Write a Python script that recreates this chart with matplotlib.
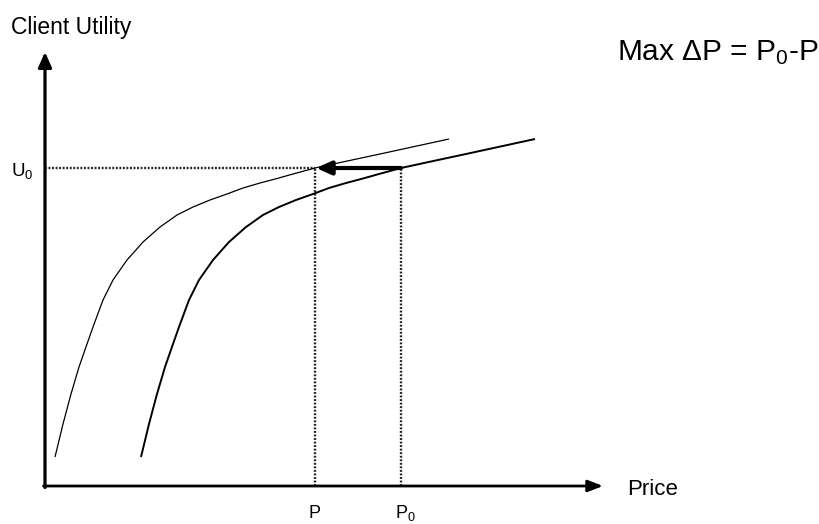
import matplotlib
matplotlib.use("Agg")
import matplotlib.pyplot as plt

plt.rcParams['font.family'] = ['Liberation Sans', 'DejaVu Sans']
plt.rcParams['mathtext.fontset'] = 'custom'
plt.rcParams['mathtext.rm'] = 'Liberation Sans'
plt.rcParams['mathtext.it'] = 'Liberation Sans:italic'

# Data (price, utility) in chart units, origin at axes corner
left_price = [10, 18, 26, 34, 42, 48, 58, 68, 82, 98, 115, 132, 148, 165, 182,
              198, 215, 232, 248, 270, 300, 335, 404]
left_util = [29, 62, 92, 119, 142, 159, 186, 206, 226, 244, 259, 271, 279, 286, 292,
             298, 303, 307.5, 312, 318, 324.5, 332, 347]
right_price = [96, 104, 112, 120, 128, 134, 144, 154, 168, 184, 201, 218, 234, 251, 268,
               284, 301, 318, 334, 356, 386, 421, 490]
right_util = [29, 62, 92, 119, 142, 159, 186, 206, 226, 244, 259, 271, 279, 286, 292,
              298, 303, 307.5, 312, 318, 324.5, 332, 347]
P = 270
P0 = 356
U0 = 318
x_axis_end = 558
y_axis_end = 434

fig = plt.figure(figsize=(8.2, 5.24), dpi=100)
ax = fig.add_axes([0, 0, 1, 1])
ax.set_xlim(-45, 775)
ax.set_ylim(-38, 486)
ax.axis('off')

# axes with arrows
ax.annotate('', xy=(0, y_axis_end), xytext=(0, -1.5),
            arrowprops=dict(arrowstyle='-|>,head_length=0.9,head_width=0.4',
                            lw=2.3, color='black', shrinkA=0, shrinkB=0))
ax.annotate('', xy=(x_axis_end, 0), xytext=(-1.5, 0),
            arrowprops=dict(arrowstyle='-|>,head_length=0.9,head_width=0.35',
                            lw=2.0, color='black', shrinkA=0, shrinkB=0))

# dotted guide lines
dot = dict(color='#222222', lw=1.7, linestyle=(0, (0.8, 0.7)))
ax.plot([0, P], [U0, U0], **dot)
ax.plot([P, P], [0, U0], **dot)
ax.plot([P0, P0], [0, U0], **dot)

# curves
ax.plot(left_price, left_util, color='black', lw=0.9, solid_capstyle='butt',
        solid_joinstyle='round')
ax.plot(right_price, right_util, color='black', lw=1.4, solid_capstyle='butt',
        solid_joinstyle='round')

# shift arrow
ax.annotate('', xy=(P + 1, U0), xytext=(P0, U0),
            arrowprops=dict(arrowstyle='-|>,head_length=0.9,head_width=0.4',
                            lw=3.0, color='black', shrinkA=0, shrinkB=0))

# texts
ax.text(-34, 452, 'Client Utility', fontsize=16.5, va='baseline', ha='left')
ax.text(572, 426, r'Max $\Delta$P = P$\mathregular{_0}$-P', fontsize=21.5, va='baseline', ha='left')
ax.text(-34, 310, r'U$\mathregular{_0}$', fontsize=13.5, va='baseline', ha='left')
ax.text(P, -32, 'P', fontsize=13, va='baseline', ha='center')
ax.text(350, -32, r'P$\mathregular{_0}$', fontsize=13, va='baseline', ha='left')
ax.text(582, -9, 'Price', fontsize=16, va='baseline', ha='left')

fig.savefig('out.png', dpi=100)
